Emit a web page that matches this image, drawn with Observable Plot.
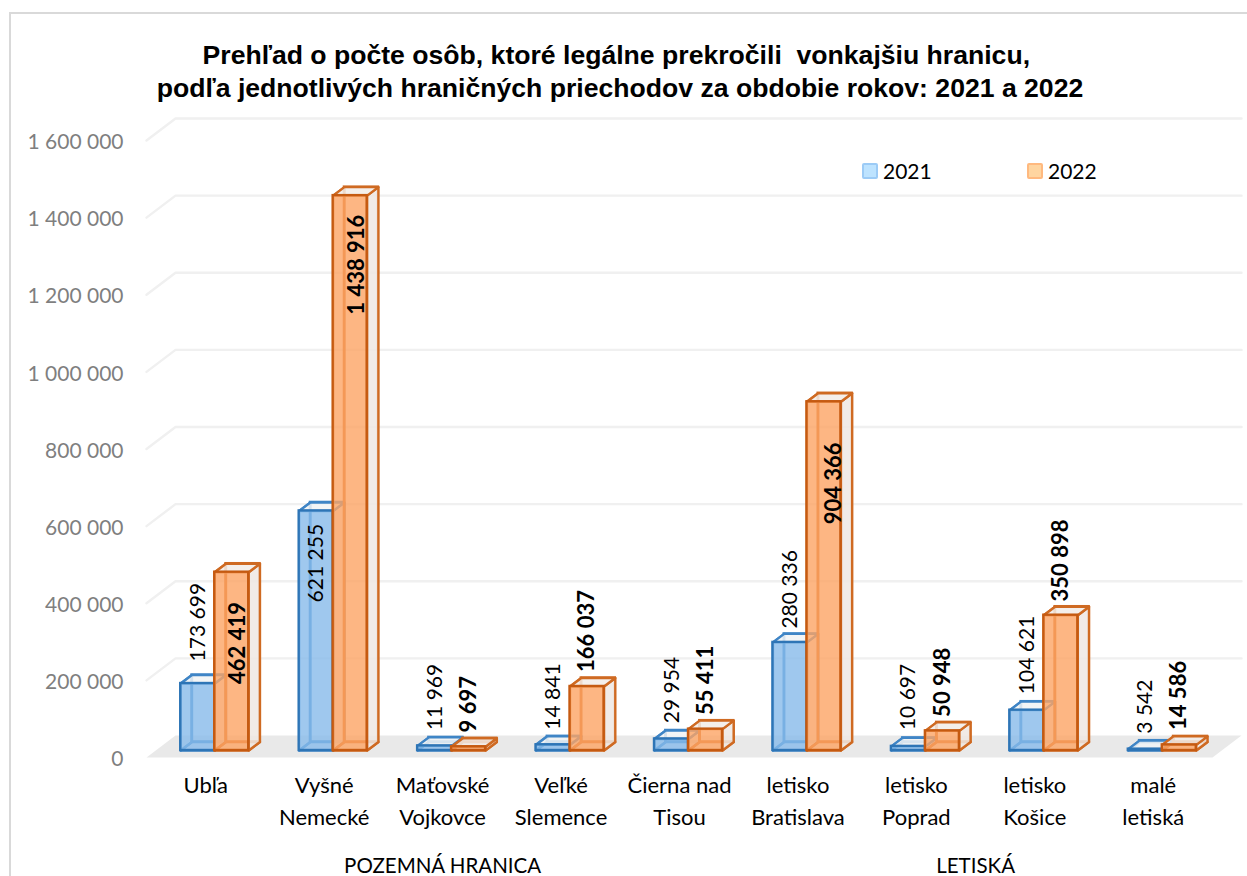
<!DOCTYPE html>
<html lang="sk">
<head>
<meta charset="utf-8">
<script src="https://cdn.jsdelivr.net/npm/d3@7"></script>
<script src="https://cdn.jsdelivr.net/npm/@observablehq/plot@0.6"></script>
<style>
  html, body { margin: 0; padding: 0; background: #fff; overflow: hidden; }
  #page { position: relative; width: 1247px; height: 876px; overflow: hidden; }
  #frame { position: absolute; left: 9px; top: 12px; width: 1300px; height: 900px; box-sizing: border-box;
           border-left: 2px solid #d9d9d9; border-top: 2px solid #d9d9d9; pointer-events: none; }
  #title { position: relative; box-sizing: border-box; width: 1240px; height: 105px; padding-top: 39px; margin: 0;
           text-align: center; font: bold 26.6px/33px "Liberation Sans", Arial, sans-serif; color: #000; white-space: pre; }
  #chart svg { display: block; }
  #legend { position: absolute; left: 862px; top: 158px; display: flex; font: 21px/26px Lato, sans-serif; color: #000; }
  #legend span.item { display: flex; align-items: center; width: 165px; }
  #legend i { display: inline-block; width: 12px; height: 12px; margin-right: 5px; border: 2px solid; border-radius: 2px; }
</style>
</head>
<body>
<div id="page">
  <div id="frame"></div>
  <h1 id="title">Prehľad o počte osôb, ktoré legálne prekročili  vonkajšiu hranicu, 
podľa jednotlivých hraničných priechodov za obdobie rokov: 2021 a 2022</h1>
  <div id="chart"></div>
  <div id="legend">
    <span class="item"><i style="background:#bde3ff;border-color:#9ccbf6"></i>2021</span>
    <span class="item"><i style="background:#ffd5a0;border-color:#ffb97f"></i>2022</span>
  </div>
</div>
<script>
const categories = ["Ubľa", "Vyšné\nNemecké", "Maťovské\nVojkovce", "Veľké\nSlemence", "Čierna nad\nTisou",
                    "letisko\nBratislava", "letisko\nPoprad", "letisko\nKošice", "malé\nletiská"];
const values2021 = [173699, 621255, 11969, 14841, 29954, 280336, 10697, 104621, 3542];
const values2022 = [462419, 1438916, 9697, 166037, 55411, 904366, 50948, 350898, 14586];
// where each hand-placed value label sits, read on the value axis
const labelAt2021 = [351000, 504000, 157000, 158000, 175000, 436000, 157000, 266000, 132000];
const labelAt2022 = [297000, 1278000, 138000, 328000, 200000, 711000, 195000, 511000, 161000];
const labelSide2022 = [0.27, 0.276, 0.22, 0.22, 0.22, 0.30, 0.225, 0.22, 0.22];
const groups = ["POZEMNÁ HRANICA", "LETISKÁ"];
const groupCenters = [2.5, 7];
const valueTicks = [0, 200000, 400000, 600000, 800000, 1000000, 1200000, 1400000, 1600000];

const fmt = d3.formatLocale({thousands: " ", grouping: [3], decimal: ",", currency: ["", ""]}).format(",");

// oblique projection, in chart units (bands across, people up)
const wallDepthX = 0.245, wallDepthY = 57000;
const barWidth = 0.287, barShift = 0.076, barLift = 18154, barDepthX = 0.095, barDepthY = 22044;

const poly = (id, pts) => [...pts, pts[0]].map(([x, y]) => ({id, x, y}));

const floor = poly("floor", [[0, 0], [9, 0], [9 + wallDepthX, wallDepthY], [wallDepthX, wallDepthY]]);
const grid = valueTicks.slice(1).flatMap(v =>
  [[0, v], [wallDepthX, v + wallDepthY], [9 + wallDepthX, v + wallDepthY]].map(([x, y]) => ({id: v, x, y})));

function boxes(values, side) {
  return values.map((v, i) => {
    const x1 = i + 0.5 + barShift + (side < 0 ? -barWidth : 0);
    const x2 = x1 + barWidth;
    return {id: i, x1, x2, y1: barLift, y2: barLift + v};
  });
}

function barMarks(values, side, c) {
  const rows = boxes(values, side);
  const dx = barDepthX, dy = barDepthY;
  const backs = rows.map(r => ({x1: r.x1 + dx, x2: r.x2 + dx, y1: r.y1 + dy, y2: r.y2 + dy}));
  const faces = name => {
    const build = {
      side: r => [[r.x2, r.y1], [r.x2 + dx, r.y1 + dy], [r.x2 + dx, r.y2 + dy], [r.x2, r.y2]],
      top: r => [[r.x1, r.y2], [r.x2, r.y2], [r.x2 + dx, r.y2 + dy], [r.x1 + dx, r.y2 + dy]],
      base: r => [[r.x1, r.y1], [r.x2, r.y1], [r.x2 + dx, r.y1 + dy], [r.x1 + dx, r.y1 + dy]],
      left: r => [[r.x1, r.y1], [r.x1 + dx, r.y1 + dy], [r.x1 + dx, r.y2 + dy], [r.x1, r.y2]]
    }[name];
    return rows.flatMap(r => poly(r.id, build(r)));
  };
  const line = (name, fill, op) => Plot.line(faces(name), {x: "x", y: "y", z: "id", fill, fillOpacity: op,
    stroke: c.inner, strokeWidth: 2.4, strokeLinejoin: "round"});
  return [
    Plot.rect(backs, {x1: "x1", x2: "x2", y1: "y1", y2: "y2", fill: "none", stroke: c.inner, strokeWidth: 2.4}),
    line("base", c.side, 0.6),
    line("left", "none", 0),
    line("side", c.side, 0.85),
    line("top", c.top, 0.85),
    Plot.rect(rows, {x1: "x1", x2: "x2", y1: "y1", y2: "y2", fill: c.fill, fillOpacity: 0.8,
      stroke: c.stroke, strokeWidth: 2.4})
  ];
}

const blue = {fill: "#87baea", stroke: "#2e75b6", inner: "#3f85c6", side: "#eaedf0", top: "#f1f3f5"};
const orange = {fill: "#fca464", stroke: "#c55a11", inner: "#cf6a22", side: "#efe8e3", top: "#f2ece8"};

const labelRows = (values, at, side) => values.map((v, i) => ({
  text: fmt(v), x: i + 0.5 + side(i), y: at[i]
}));

const chart = Plot.plot({
  width: 1247, height: 771,
  marginLeft: 146, marginRight: 35, marginTop: 35, marginBottom: 119,
  style: {background: "transparent", overflow: "visible", fontFamily: "Lato, sans-serif"},
  x: {type: "linear", domain: [0, 9]},
  y: {type: "linear", domain: [0, 1600000]},
  marks: [
    Plot.line(floor, {x: "x", y: "y", z: "id", fill: "#e9e9e9", stroke: "none"}),
    Plot.line(grid, {x: "x", y: "y", z: "id", stroke: "#f0f0f0", strokeWidth: 2.4}),
    ...barMarks(values2021, -1, blue),
    ...barMarks(values2022, 1, orange),
    Plot.text(labelRows(values2021, labelAt2021, () => -0.065), {x: "x", y: "y", text: "text", rotate: -90,
      fontSize: 21, fill: "#000"}),
    Plot.text(labelRows(values2022, labelAt2022, i => labelSide2022[i]), {x: "x", y: "y", text: "text", rotate: -90,
      fontSize: 22, fontWeight: "bold", fill: "#000"}),
    Plot.axisY({ticks: valueTicks, tickFormat: fmt, tickSize: 0, tickPadding: 23, label: null, dy: 2,
      fontSize: 21, color: "#7f7f7f"}),
    Plot.axisX({ticks: categories.map((_, i) => i + 0.5), tickFormat: d => categories[d - 0.5], tickSize: 0,
      tickPadding: 13, label: null, fontSize: 22, lineHeight: 1.45, color: "#000", textOverflow: null}),
    Plot.axisX({ticks: groupCenters, tickFormat: d => groups[groupCenters.indexOf(d)], tickSize: 0,
      tickPadding: 101, label: null, fontSize: 20.5, color: "#000"})
  ]
});
document.getElementById("chart").appendChild(chart);
</script>
</body>
</html>
